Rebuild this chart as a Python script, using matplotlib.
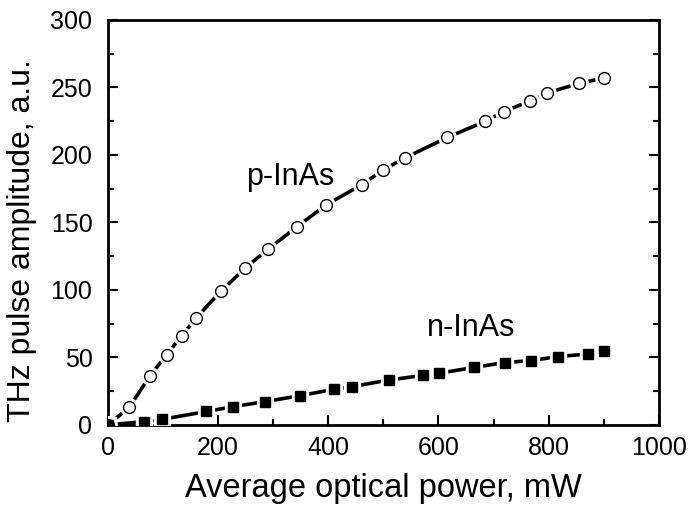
import matplotlib
matplotlib.use("Agg")
import matplotlib.pyplot as plt
from matplotlib.ticker import MultipleLocator

plt.rcParams["font.family"] = ["Liberation Sans", "DejaVu Sans"]

# p-InAs (open circles)
p_power = [0, 39, 76, 107, 134, 160, 205, 249, 290, 344, 396, 461, 500,
           540, 616, 685, 718, 766, 797, 855, 900]
p_amp = [0, 13, 36, 52, 66, 79, 99, 116, 130, 147, 163, 178, 189,
         198, 213, 225, 232, 240, 246, 253, 257]

# n-InAs (filled squares)
n_power = [0, 66, 99, 179, 228, 285, 349, 410, 443, 510, 572, 601,
           665, 720, 767, 816, 871, 900]
n_amp = [0, 2.5, 4.2, 10, 13.6, 17.3, 21.7, 26.4, 28.4, 33.3, 36.7, 38.3,
         42.7, 46.2, 47.7, 50.6, 52.6, 54.6]

fig = plt.figure(figsize=(6.89, 5.14), dpi=100)
ax = fig.add_axes([0.1563, 0.1732, 0.8002, 0.7879])


def series(x, y, marker, face, ms):
    ax.plot(x, y, "-", color="black", lw=2.6, zorder=2)
    # white halo gives the gap between line and markers
    ax.plot(x, y, linestyle="none", marker=marker, ms=ms + 4,
            mfc="white", mec="white", zorder=3)
    ax.plot(x, y, linestyle="none", marker=marker, ms=ms,
            mfc=face, mec="black", mew=1.0, zorder=4)


series(p_power, p_amp, "o", "white", 8.5)
series(n_power, n_amp, "s", "black", 7.5)

ax.text(331, 184, "p-InAs", fontsize=22, ha="center", va="center")
ax.text(660, 72, "n-InAs", fontsize=22, ha="center", va="center")

ax.set_xlim(0, 1000)
ax.set_ylim(0, 300)
ax.xaxis.set_major_locator(MultipleLocator(200))
ax.xaxis.set_minor_locator(MultipleLocator(100))
ax.yaxis.set_major_locator(MultipleLocator(50))
ax.yaxis.set_minor_locator(MultipleLocator(25))

ax.tick_params(which="both", direction="in", width=1.5, labelsize=18,
               right=True, top=False)
ax.tick_params(which="major", length=7)
ax.tick_params(which="minor", length=4)
ax.tick_params(axis="x", which="major", pad=8)
ax.tick_params(axis="y", which="major", pad=11)
for s in ax.spines.values():
    s.set_linewidth(2)

ax.set_xlabel("Average optical power, mW", fontsize=23.5, labelpad=9)
ax.set_ylabel("THz pulse amplitude, a.u.", fontsize=23)
ax.yaxis.set_label_coords(-0.128, 0.455)

fig.savefig("out.png", dpi=100)
